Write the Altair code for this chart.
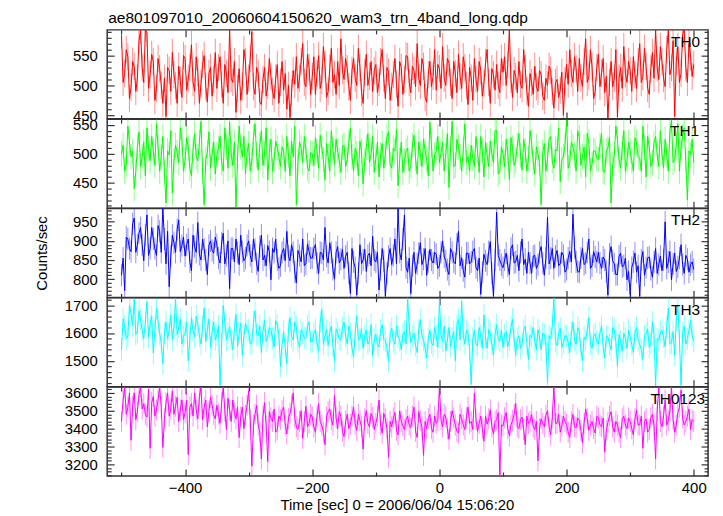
import altair as alt
import pandas as pd

# light curves: values on the 5 s grid (-500 ... 400) and on the shifted grid (-497.5 ... 397.5)
times = list(range(-500, 401, 5))
times_mid = [t + 2.5 for t in times[:-1]]

th0 = [
    585, 520, 548, 497, 532, 512, 592, 505, 588, 518,
    540, 495, 528, 470, 448, 525, 555, 500, 532, 480,
    545, 512, 568, 490, 522, 503, 550, 472, 530, 510,
    495, 548, 470, 520, 596, 505, 455, 528, 498, 540,
    512, 590, 485, 520, 468, 530, 500, 515, 478, 535,
    505, 492, 460, 446, 525, 548, 512, 570, 498, 530,
    515, 485, 550, 508, 535, 490, 562, 518, 540, 578,
    510, 528, 475, 545, 500, 530, 470, 552, 515, 490,
    535, 505, 560, 478, 522, 498, 545, 465, 530, 510,
    548, 488, 525, 570, 500, 532, 472, 540, 515, 492,
    528, 565, 500, 538, 478, 520, 552, 495, 530, 468,
    512, 545, 490, 525, 503, 560, 470, 518, 535, 488,
    522, 500, 596, 480, 515, 540, 495, 528, 465, 505,
    532, 490, 518, 475, 500, 525, 462, 510, 492, 450,
    535, 560, 505, 528, 545, 498, 578, 515, 532, 490,
    552, 520, 488, 445, 540, 512, 447, 530, 565, 505,
    525, 548, 495, 570, 515, 532, 485, 555, 595, 510,
    540, 498, 592, 530, 448, 565, 520, 596, 505, 548,
    535,
]
th0_mid = [
    505, 560, 478, 540, 490, 575, 530, 596, 495, 552,
    475, 545, 500, 512, 530, 490, 518, 470, 508, 550,
    492, 530, 505, 548, 470, 535, 498, 520, 482, 555,
    530, 502, 535, 488, 512, 540, 495, 475, 560, 485,
    545, 498, 530, 472, 510, 482, 545, 490, 512, 470,
    540, 520, 500, 488, 502, 495, 540, 505, 552, 485,
    548, 520, 495, 565, 480, 528, 505, 485, 500, 525,
    545, 498, 525, 512, 562, 488, 522, 500, 540, 525,
    488, 540, 512, 530, 475, 518, 502, 540, 485, 550,
    505, 532, 498, 512, 545, 480, 518, 498, 560, 535,
    495, 512, 545, 505, 540, 488, 515, 548, 500, 530,
    475, 510, 540, 482, 538, 505, 528, 492, 500, 545,
    548, 535, 510, 525, 488, 502, 560, 490, 520, 485,
    498, 525, 482, 512, 532, 490, 505, 480, 522, 508,
    502, 520, 548, 490, 512, 540, 505, 560, 478, 530,
    498, 545, 515, 505, 498, 560, 512, 495, 520, 540,
    490, 518, 540, 505, 562, 495, 528, 512, 530, 565,
    512, 560, 518, 575, 540, 505, 585, 530, 570, 515,
]
th1 = [
    500, 470, 548, 495, 440, 512, 478, 520, 545, 488,
    505, 552, 470, 530, 415, 498, 432, 515, 485, 525,
    490, 510, 462, 535, 488, 556, 412, 502, 475, 520,
    498, 530, 470, 512, 555, 480, 408, 548, 495, 465,
    518, 488, 552, 472, 540, 500, 455, 525, 490, 510,
    478, 505, 530, 462, 495, 412, 520, 485, 508, 470,
    500, 528, 475, 512, 455, 495, 540, 482, 505, 468,
    515, 490, 545, 470, 500, 522, 448, 510, 485, 530,
    492, 460, 518, 500, 538, 475, 505, 445, 520, 488,
    510, 480, 532, 465, 500, 525, 490, 555, 470, 505,
    485, 520, 498, 442, 556, 480, 512, 470, 552, 495,
    515, 478, 505, 530, 460, 498, 522, 485, 540, 470,
    500, 525, 455, 510, 488, 535, 472, 505, 492, 520,
    465, 500, 412, 518, 490, 530, 475, 505, 452, 495,
    558, 485, 512, 470, 528, 495, 460, 520, 482, 505,
    490, 535, 468, 510, 415, 498, 525, 475, 540, 488,
    505, 470, 520, 492, 548, 460, 512, 485, 530, 478,
    500, 525, 470, 558, 490, 552, 512, 545, 420, 498,
    485,
]
th1_mid = [
    515, 482, 520, 505, 470, 538, 495, 462, 510, 530,
    480, 512, 495, 468, 505, 540, 488, 502, 545, 470,
    528, 475, 508, 495, 520, 470, 490, 538, 500, 465,
    510, 485, 545, 475, 500, 520, 492, 512, 530, 502,
    470, 528, 498, 515, 480, 545, 505, 470, 522, 495,
    512, 470, 498, 522, 548, 485, 510, 530, 475, 502,
    480, 505, 532, 490, 518, 470, 508, 525, 488, 512,
    478, 520, 495, 510, 462, 505, 488, 535, 500, 468,
    520, 498, 475, 530, 482, 510, 542, 490, 468, 505,
    470, 515, 492, 520, 478, 505, 462, 515, 498, 530,
    502, 470, 535, 510, 478, 525, 495, 508, 485, 470,
    492, 530, 468, 505, 520, 478, 500, 540, 465, 512,
    478, 505, 528, 480, 515, 498, 525, 470, 540, 485,
    512, 485, 502, 470, 525, 488, 508, 545, 490, 515,
    475, 520, 498, 540, 480, 512, 535, 470, 505, 492,
    515, 470, 505, 528, 482, 548, 490, 510, 470, 520,
    488, 528, 495, 470, 510, 530, 478, 518, 498, 540,
    475, 498, 540, 485, 515, 470, 530, 488, 505, 525,
]
th2 = [
    810, 770, 905, 872, 960, 890, 935, 848, 968, 880,
    905, 862, 925, 985, 840, 780, 915, 870, 955, 888,
    860, 905, 822, 885, 948, 850, 878, 812, 900, 868,
    890, 842, 920, 862, 775, 880, 905, 838, 872, 855,
    900, 845, 878, 820, 915, 862, 888, 798, 870, 850,
    835, 880, 925, 848, 870, 790, 862, 905, 840, 872,
    855, 890, 815, 868, 935, 842, 870, 800, 885, 852,
    828, 870, 762, 845, 758, 890, 850, 820, 868, 912,
    845, 772, 880, 755, 860, 838, 905, 985, 850, 968,
    818, 762, 870, 840, 895, 852, 810, 878, 842, 865,
    835, 900, 848, 812, 870, 840, 925, 856, 805, 868,
    845, 880, 822, 760, 865, 838, 898, 755, 975, 850,
    830, 868, 812, 890, 845, 822, 905, 852, 870, 815,
    862, 838, 885, 810, 962, 855, 828, 875, 840, 862,
    825, 872, 970, 845, 818, 880, 842, 905, 835, 858,
    870, 828, 850, 758, 885, 840, 812, 868, 835, 798,
    760, 845, 818, 755, 872, 830, 858, 805, 880, 838,
    822, 950, 845, 798, 868, 832, 890, 815, 852, 838,
    825,
]
th2_mid = [
    855, 910, 880, 945, 870, 920, 890, 915, 862, 935,
    880, 940, 870, 905, 925, 860, 895, 930, 872, 910,
    890, 845, 915, 870, 865, 905, 850, 888, 875, 910,
    855, 895, 840, 900, 880, 845, 870, 915, 848, 888,
    862, 905, 840, 885, 850, 835, 872, 880, 905, 828,
    870, 848, 860, 890, 818, 875, 845, 835, 892, 855,
    880, 842, 870, 850, 860, 895, 825, 870, 842, 878,
    860, 815, 880, 830, 815, 840, 878, 862, 835, 850,
    870, 825, 848, 815, 880, 862, 840, 870, 905, 830,
    855, 835, 815, 868, 838, 880, 845, 850, 870, 828,
    870, 858, 825, 880, 845, 892, 835, 822, 868, 840,
    872, 830, 855, 818, 848, 872, 815, 850, 862, 838,
    850, 835, 880, 842, 862, 870, 838, 815, 842, 860,
    828, 870, 842, 855, 840, 880, 860, 835, 870, 818,
    855, 845, 882, 820, 855, 838, 870, 828, 872, 845,
    842, 858, 820, 865, 848, 812, 860, 832, 855, 820,
    830, 868, 835, 850, 810, 855, 825, 845, 815, 860,
    850, 828, 872, 840, 820, 855, 838, 862, 818, 845,
]
th3 = [
    1540, 1625, 1590, 1668, 1722, 1605, 1650, 1580, 1712, 1630,
    1528, 1690, 1598, 1490, 1640, 1610, 1575, 1725, 1620, 1560,
    1600, 1500, 1655, 1585, 1630, 1560, 1690, 1612, 1548, 1640,
    1595, 1412, 1700, 1575, 1622, 1540, 1668, 1598, 1520, 1635,
    1610, 1565, 1680, 1590, 1530, 1645, 1585, 1612, 1550, 1628,
    1480, 1605, 1490, 1655, 1575, 1620, 1548, 1600, 1582, 1640,
    1570, 1612, 1535, 1685, 1590, 1555, 1625, 1498, 1600, 1575,
    1640, 1560, 1598, 1515, 1662, 1580, 1545, 1610, 1572, 1520,
    1595, 1550, 1630, 1572, 1498, 1618, 1560, 1585, 1540, 1605,
    1727, 1565, 1600, 1530, 1648, 1575, 1510, 1610, 1555, 1590,
    1718, 1570, 1535, 1620, 1580, 1500, 1650, 1715, 1560, 1595,
    1415, 1610, 1555, 1590, 1665, 1545, 1600, 1520, 1630, 1570,
    1548, 1605, 1575, 1650, 1520, 1590, 1562, 1625, 1505, 1585,
    1570, 1612, 1540, 1595, 1420, 1580, 1727, 1555, 1618, 1565,
    1590, 1530, 1640, 1560, 1605, 1500, 1575, 1655, 1545, 1598,
    1560, 1625, 1510, 1585, 1540, 1612, 1480, 1570, 1600, 1545,
    1585, 1530, 1620, 1560, 1505, 1598, 1548, 1640, 1410, 1575,
    1610, 1550, 1690, 1565, 1520, 1700, 1412, 1625, 1580, 1645,
    1570,
]
th3_mid = [
    1650, 1578, 1700, 1625, 1595, 1680, 1610, 1640, 1585, 1660,
    1610, 1640, 1565, 1600, 1580, 1665, 1620, 1595, 1650, 1588,
    1640, 1580, 1610, 1660, 1590, 1625, 1570, 1650, 1605, 1575,
    1625, 1560, 1640, 1600, 1580, 1612, 1552, 1635, 1590, 1608,
    1560, 1640, 1595, 1625, 1605, 1570, 1620, 1580, 1645, 1592,
    1560, 1548, 1610, 1588, 1640, 1570, 1612, 1580, 1625, 1568,
    1598, 1565, 1640, 1560, 1612, 1600, 1555, 1615, 1578, 1620,
    1590, 1625, 1545, 1600, 1575, 1615, 1590, 1560, 1630, 1575,
    1560, 1610, 1578, 1545, 1598, 1570, 1625, 1575, 1595, 1560,
    1620, 1588, 1555, 1610, 1590, 1545, 1580, 1565, 1620, 1548,
    1592, 1625, 1575, 1552, 1605, 1628, 1575, 1590, 1610, 1540,
    1580, 1560, 1620, 1545, 1585, 1612, 1560, 1595, 1578, 1610,
    1595, 1550, 1620, 1575, 1580, 1545, 1610, 1560, 1592, 1620,
    1540, 1585, 1600, 1560, 1590, 1625, 1570, 1600, 1548, 1590,
    1565, 1600, 1575, 1620, 1540, 1585, 1610, 1560, 1590, 1570,
    1600, 1548, 1590, 1560, 1620, 1570, 1595, 1535, 1580, 1610,
    1560, 1600, 1575, 1540, 1590, 1615, 1565, 1592, 1580, 1605,
    1585, 1620, 1560, 1605, 1645, 1575, 1600, 1560, 1610, 1590,
]
th0123 = [
    3440, 3633, 3520, 3335, 3600, 3495, 3633, 3540, 3465, 3290,
    3580, 3505, 3633, 3295, 3545, 3470, 3610, 3525, 3440, 3560,
    3490, 3255, 3540, 3600, 3455, 3633, 3520, 3410, 3575, 3480,
    3530, 3430, 3633, 3395, 3505, 3560, 3455, 3350, 3520, 3475,
    3612, 3190, 3480, 3420, 3230, 3545, 3215, 3460, 3510, 3395,
    3450, 3520, 3370, 3485, 3600, 3410, 3440, 3345, 3525, 3430,
    3465, 3380, 3540, 3420, 3310, 3495, 3450, 3585, 3400, 3470,
    3355, 3480, 3425, 3520, 3390, 3445, 3285, 3500, 3410, 3462,
    3430, 3560, 3375, 3455, 3240, 3410, 3490, 3365, 3440, 3395,
    3470, 3405, 3520, 3350, 3445, 3250, 3400, 3480, 3380, 3430,
    3633, 3410, 3465, 3340, 3500, 3420, 3375, 3455, 3395, 3520,
    3440, 3600, 3385, 3470, 3330, 3425, 3505, 3370, 3450, 3135,
    3415, 3490, 3360, 3445, 3540, 3400, 3465, 3310, 3430, 3480,
    3395, 3220, 3455, 3410, 3500, 3365, 3633, 3430, 3380, 3470,
    3425, 3350, 3480, 3405, 3445, 3320, 3510, 3390, 3440, 3375,
    3460, 3410, 3270, 3435, 3495, 3380, 3420, 3350, 3470, 3400,
    3440, 3365, 3505, 3420, 3290, 3455, 3395, 3480, 3230, 3633,
    3410, 3560, 3445, 3633, 3380, 3490, 3615, 3420, 3470, 3395,
    3440,
]
th0123_mid = [
    3560, 3480, 3600, 3525, 3450, 3590, 3510, 3480, 3620, 3545,
    3470, 3560, 3520, 3455, 3600, 3510, 3480, 3575, 3505, 3450,
    3560, 3520, 3470, 3505, 3580, 3450, 3560, 3495, 3530, 3455,
    3480, 3545, 3500, 3570, 3440, 3490, 3520, 3465, 3400, 3530,
    3450, 3420, 3530, 3380, 3470, 3415, 3495, 3440, 3380, 3470,
    3500, 3420, 3455, 3530, 3460, 3395, 3500, 3440, 3410, 3480,
    3410, 3470, 3440, 3380, 3465, 3510, 3420, 3460, 3495, 3385,
    3440, 3400, 3470, 3425, 3480, 3410, 3455, 3430, 3485, 3395,
    3470, 3420, 3485, 3400, 3440, 3460, 3390, 3500, 3415, 3450,
    3420, 3470, 3385, 3495, 3410, 3440, 3455, 3400, 3470, 3445,
    3450, 3480, 3400, 3440, 3460, 3385, 3480, 3420, 3460, 3430,
    3395, 3450, 3430, 3400, 3470, 3455, 3410, 3440, 3490, 3420,
    3460, 3400, 3420, 3480, 3410, 3450, 3395, 3470, 3440, 3410,
    3440, 3400, 3430, 3475, 3410, 3460, 3430, 3480, 3415, 3440,
    3380, 3440, 3410, 3460, 3390, 3430, 3455, 3420, 3400, 3470,
    3420, 3460, 3390, 3470, 3410, 3440, 3380, 3455, 3420, 3460,
    3400, 3455, 3420, 3470, 3440, 3380, 3460, 3420, 3500, 3440,
    3470, 3420, 3500, 3450, 3420, 3520, 3460, 3440, 3510, 3450,
]

series = [th0, th1, th2, th3, th0123]
series_mid = [th0_mid, th1_mid, th2_mid, th3_mid, th0123_mid]
names = ["TH0", "TH1", "TH2", "TH3", "TH0123"]
colors = ["#ff0000", "#00ff00", "#0000ff", "#00ffff", "#ff00ff"]
errors = [23, 22, 29, 40, 59]
y_domains = [[444, 593], [406, 560], [752, 985], [1407, 1727], [3135, 3633]]
y_major = [[450, 500, 550], [450, 500, 550], [800, 850, 900, 950],
           [1500, 1600, 1700], [3200, 3300, 3400, 3500, 3600]]
y_minor_step = [10, 10, 10, 20, 20]
x_domain = [-522.5, 422.5]
x_major = [-400, -200, 0, 200, 400]
x_minor = [-500, -300, -100, 100, 300]

title_text = "ae801097010_20060604150620_wam3_trn_4band_long.qdp"
x_title = "Time [sec] 0 = 2006/06/04 15:06:20"
y_title = "Counts/sec"

FONT = "Liberation Sans"
W, H = 605.7, 89.7
MAJ, MIN = 7, 4
label_right = [8, 9, 8, 8, 3]  # distance of each panel label from the right frame


def minor_values(dom, step, major):
    vals = []
    v = (int(dom[0] // step) + 1) * step
    while v < dom[1]:
        if v not in major:
            vals.append(v)
        v += step
    return vals


def tick_axis(orient, values, size):
    return alt.Axis(orient=orient, values=values, tickSize=size, offset=-size,
                    domain=False, grid=False, labels=False, title=None)


def panel(i):
    df = pd.concat([
        pd.DataFrame({"t": times, "v": series[i]}),
        pd.DataFrame({"t": times_mid, "v": series_mid[i]}),
    ]).sort_values("t").reset_index(drop=True)
    df["lo"] = df["v"] - errors[i]
    df["hi"] = df["v"] + errors[i]
    xs = alt.Scale(domain=x_domain, nice=False, zero=False, padding=0)
    ys = alt.Scale(domain=y_domains[i], nice=False, zero=False, clamp=True, padding=0)
    last = i == len(series) - 1
    xa = alt.Axis(orient="bottom", values=x_major, tickSize=MAJ, offset=-MAJ,
                  domain=False, grid=False, labels=last, labelPadding=5,
                  labelFlush=False, format="d", title=(x_title if last else None),
                  titlePadding=2, titleX=292)
    ya = alt.Axis(orient="left", values=y_major[i], tickSize=MAJ, offset=-MAJ,
                  domain=False, grid=False, labelPadding=10, labelFlush=False,
                  format="d", title=(y_title if i == 2 else None), titlePadding=23)
    base = alt.Chart(df)
    err = base.mark_rule(color=colors[i], opacity=0.45, strokeWidth=1, clip=True).encode(
        x=alt.X("t:Q", scale=xs, axis=xa),
        y=alt.Y("lo:Q", scale=ys, axis=ya),
        y2="hi:Q",
    )
    line = base.mark_line(color=colors[i], strokeWidth=1, clip=True).encode(
        x=alt.X("t:Q", scale=xs, axis=xa),
        y=alt.Y("v:Q", scale=ys, axis=ya),
    )
    main = alt.layer(err, line)
    ymin = minor_values(y_domains[i], y_minor_step[i], y_major[i])

    def tick_layer(xo, yo, xv, yv, size):
        return base.mark_point(opacity=0, clip=True, size=1).encode(
            x=alt.X("t:Q", scale=xs, axis=tick_axis(xo, xv, size)),
            y=alt.Y("v:Q", scale=ys, axis=tick_axis(yo, yv, size)),
        )

    l2 = tick_layer("bottom", "left", x_minor, ymin, MIN)
    l3 = tick_layer("top", "right", x_major, y_major[i], MAJ)
    l4 = tick_layer("top", "right", x_minor, ymin, MIN)
    label = alt.Chart(pd.DataFrame({"name": [names[i]]})).mark_text(
        align="right", baseline="alphabetic", fontSize=15.5, font=FONT, color="black"
    ).encode(text="name:N", x=alt.value(W - label_right[i]), y=alt.value(17))
    layers = [main, l2, l3, l4, label]
    if i == 0:
        layers.append(alt.Chart(pd.DataFrame({"title": [title_text]})).mark_text(
            align="left", baseline="alphabetic", fontSize=15.6, font=FONT, color="black"
        ).encode(text="title:N", x=alt.value(1), y=alt.value(-6.6)))
    ch = alt.layer(*layers).resolve_scale(
        x="independent", y="independent").properties(width=W, height=H)
    return ch


chart = alt.vconcat(*[panel(i) for i in range(len(series))], spacing=0, bounds="flush").properties(
    padding={"left": 26, "top": 0, "right": 5, "bottom": 2}
).configure_view(
    stroke="#333", strokeWidth=1.5
).configure_axis(
    labelFont=FONT, labelFontSize=15, labelColor="black",
    titleFont=FONT, titleFontSize=15, titleFontWeight="normal", titleColor="black",
    tickColor="#333", tickWidth=1.2,
)

chart.save("out.html", embed_options={"renderer": "svg", "actions": False})
